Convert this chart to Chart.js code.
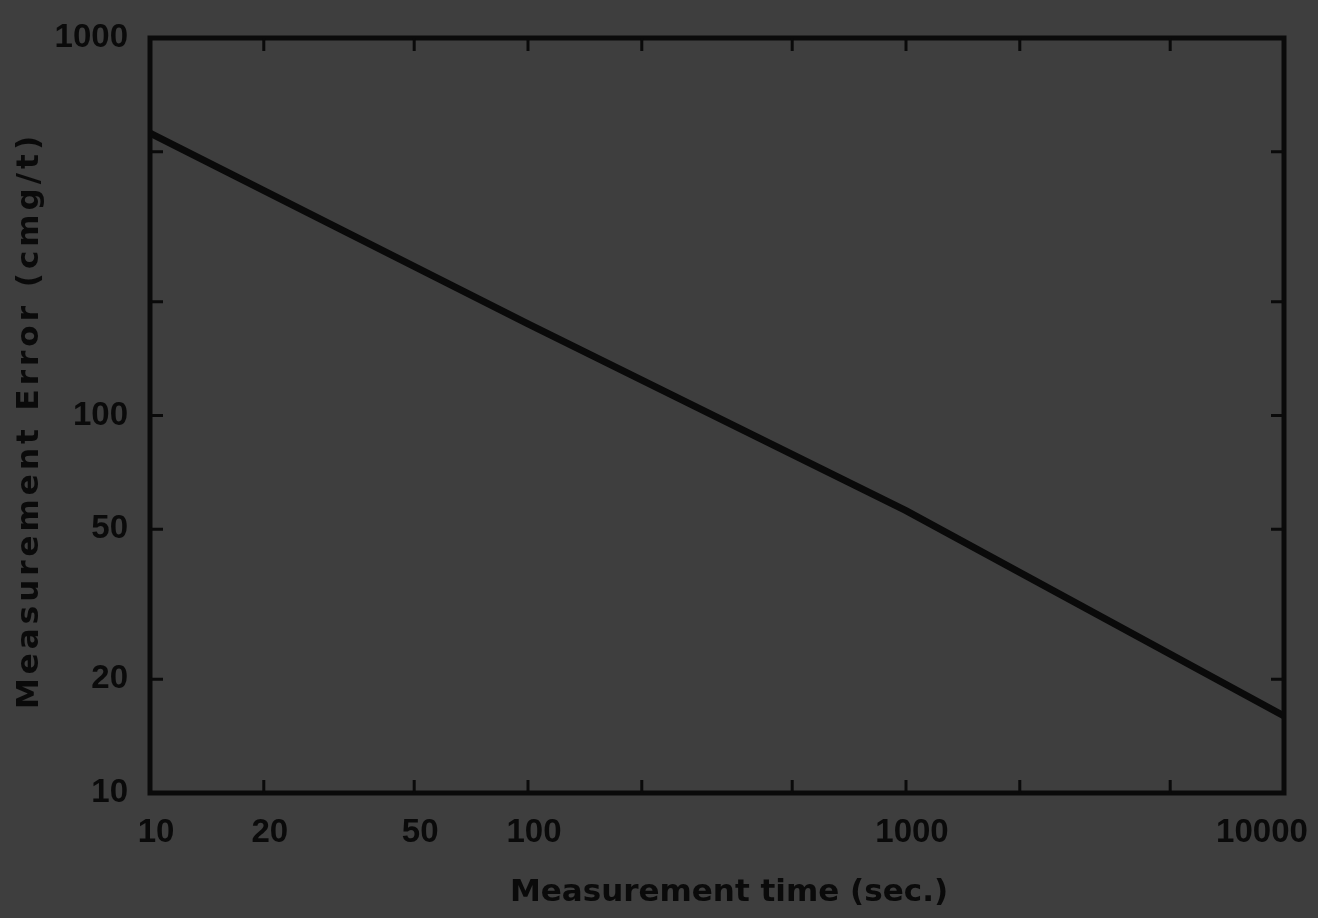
<!DOCTYPE html>
<html>
<head>
<meta charset="utf-8">
<script src="https://cdn.jsdelivr.net/npm/chart.js@4"></script>
<style>
    html, body { margin: 0; padding: 0; background: #3e3e3e; }
    #wrap { width: 1318px; height: 918px; }
</style>
</head>
<body>
<div id="wrap"><canvas id="chart"></canvas></div>
<script>
// 測定時間 (sec.) と測定誤差 (cmg/t)
const times = [10, 100, 1000, 10000];
const errors = [560, 175, 56, 16];

// 目盛り
const xTicks = [10, 20, 50, 100, 200, 500, 1000, 2000, 5000, 10000];
const xLabels = [10, 20, 50, 100, 1000, 10000];
const yTicks = [10, 20, 50, 100, 200, 500, 1000];
const yLabels = [10, 20, 50, 100, 1000];

const xTitle = 'Measurement time (sec.)';
const yTitle = 'Measurement Error (cmg/t)';

const ink = '#0a0a0a';
const numFont = 'Liberation Sans';
const titleFont = 'DejaVu Sans';

// 内向きの目盛り、枠線、x軸ラベル、軸タイトル
const frameTicks = {
    id: 'frameTicks',
    afterDraw(chart) {
        const { ctx, chartArea: a, scales } = chart;
        const len = 13;
        ctx.save();
        ctx.strokeStyle = ink;
        ctx.lineWidth = 5;
        ctx.strokeRect(a.left, a.top, a.right - a.left, a.bottom - a.top);
        ctx.lineWidth = 3;
        ctx.beginPath();
        xTicks.slice(1, -1).forEach(v => {
            const px = scales.x.getPixelForValue(v);
            ctx.moveTo(px, a.bottom); ctx.lineTo(px, a.bottom - len);
            ctx.moveTo(px, a.top); ctx.lineTo(px, a.top + len);
        });
        yTicks.slice(1, -1).forEach(v => {
            const py = scales.y.getPixelForValue(v);
            ctx.moveTo(a.left, py); ctx.lineTo(a.left + len, py);
            ctx.moveTo(a.right, py); ctx.lineTo(a.right - len, py);
        });
        ctx.stroke();

        // x軸の数値 (10000 は右端に寄せる)
        ctx.fillStyle = ink;
        ctx.font = `bold 33px "${numFont}"`;
        ctx.textBaseline = 'middle';
        ctx.textAlign = 'center';
        xLabels.forEach(v => {
            let px = scales.x.getPixelForValue(v) + 6;
            if (v === 10000) px -= 28;
            ctx.fillText(String(v), px, a.bottom + 40);
        });

        // 軸タイトル
        ctx.font = `bold 31px "${titleFont}"`;
        ctx.fillText(xTitle, (a.left + a.right) / 2 + 12, a.bottom + 100);

        ctx.translate(30, (a.top + a.bottom) / 2 + 5);
        ctx.rotate(-Math.PI / 2);
        ctx.letterSpacing = '4px';
        ctx.fillText(yTitle, 0, 0);
        ctx.restore();
    }
};

new Chart(document.getElementById('chart'), {
    type: 'line',
    data: {
        datasets: [{
            data: times.map((t, i) => ({ x: t, y: errors[i] })),
            borderColor: ink,
            borderWidth: 7,
            pointRadius: 0,
            tension: 0
        }]
    },
    options: {
        responsive: true,
        maintainAspectRatio: false,
        animation: false,
        layout: { padding: { top: 38, right: 34, left: 0, bottom: 0 } },
        plugins: { legend: { display: false }, tooltip: { enabled: false } },
        scales: {
            x: {
                type: 'logarithmic',
                min: 10,
                max: 10000,
                grid: { display: false },
                border: { display: false },
                afterBuildTicks: scale => { scale.ticks = xTicks.map(v => ({ value: v })); },
                afterFit: scale => {
                    scale.height = 125;
                    scale.paddingLeft = 0;
                    scale.paddingRight = 0;
                },
                ticks: { display: false }
            },
            y: {
                type: 'logarithmic',
                min: 10,
                max: 1000,
                grid: { display: false },
                border: { display: false },
                afterBuildTicks: scale => { scale.ticks = yTicks.map(v => ({ value: v })); },
                afterFit: scale => { scale.width = 150; },
                ticks: {
                    color: ink,
                    padding: 14,
                    autoSkip: false,
                    font: { family: numFont, size: 33, weight: 'bold' },
                    callback: v => yLabels.includes(v) ? String(v) : ''
                }
            }
        }
    },
    plugins: [frameTicks]
});
</script>
</body>
</html>
